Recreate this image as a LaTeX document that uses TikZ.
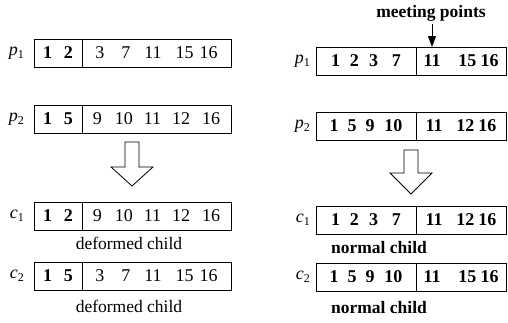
\documentclass[tikz,border=0pt]{standalone}
\usepackage{fontspec}
\setmainfont{Liberation Serif}
\usetikzlibrary{arrows.meta}
\newcommand{\rowlab}[2]{\textit{#1}\raisebox{-0.35ex}{\fontsize{12}{12}\selectfont #2}}
\begin{document}
\begin{tikzpicture}[x=1pt,y=-1pt,
  cell/.style={draw, line width=0.8pt, minimum height=28pt, inner sep=0pt, outer sep=0pt, anchor=west, font=\fontsize{18}{20}\selectfont},
  rowname/.style={anchor=east, inner sep=0pt, font=\fontsize{18}{20}\selectfont},
  caption/.style={inner sep=0pt, font=\fontsize{17.5}{20}\selectfont},
  blockarrow/.style={draw, line width=0.8pt, fill=white},
  pointer/.style={line width=1pt, -{Triangle[width=8pt,length=11pt]}}
]
\useasboundingbox (0,0) rectangle (508,322);
% ---------- left diagram ----------
\node[rowname] (lp1) at (24,53) {\rowlab{p}{1}};
\node[cell, minimum width=48pt] (lp1a) at (34,53) {\bfseries 1\hspace{12pt}2};
\node[cell, minimum width=149pt] (lp1b) at (lp1a.east) {3\hspace{17pt}7\hspace{14pt}11\hspace{14pt}15\hspace{6pt}16};

\node[rowname] (lp2) at (24,119) {\rowlab{p}{2}};
\node[cell, minimum width=48pt] (lp2a) at (34,119) {\bfseries 1\hspace{12pt}5};
\node[cell, minimum width=149pt] (lp2b) at (lp2a.east) {9\hspace{13pt}10\hspace{11pt}11\hspace{11pt}12\hspace{12pt}16};

\draw[blockarrow] (125,142) -- (139,142) -- (139,167) -- (153,167) -- (132,186) -- (111,167) -- (125,167) -- cycle;

\node[rowname] (lc1) at (24,216) {\rowlab{c}{1}};
\node[cell, minimum width=48pt] (lc1a) at (34,216) {\bfseries 1\hspace{12pt}2};
\node[cell, minimum width=149pt] (lc1b) at (lc1a.east) {9\hspace{13pt}10\hspace{11pt}11\hspace{11pt}12\hspace{12pt}16};
\node[caption] (ld1) at (129,243) {deformed child};

\node[rowname] (lc2) at (24,276) {\rowlab{c}{2}};
\node[cell, minimum width=48pt] (lc2a) at (34,276) {\bfseries 1\hspace{12pt}5};
\node[cell, minimum width=149pt] (lc2b) at (lc2a.east) {3\hspace{17pt}7\hspace{14pt}11\hspace{14pt}15\hspace{6pt}16};
\node[caption] (ld2) at (129,306) {deformed child};

% ---------- right diagram ----------
\node[caption] (mp) at (431,13) {\bfseries meeting points};
\node[rowname] (rp1) at (310,61) {\rowlab{p}{1}};
\node[cell, minimum width=100pt] (rp1a) at (316,61) {\bfseries 1\hspace{10pt}2\hspace{10pt}3\hspace{14pt}7};
\node[cell, minimum width=90pt] (rp1b) at (rp1a.east) {\bfseries 11\hspace{18pt}15\hspace{4pt}16};
\coordinate (mptip) at ([xshift=16pt]rp1a.north east);
\draw[pointer] (mptip |- mp.south) ++(0,3) -- (mptip);

\node[rowname] (rp2) at (310,126) {\rowlab{p}{2}};
\node[cell, minimum width=100pt] (rp2a) at (316,126) {\bfseries 1\hspace{9pt}5\hspace{9pt}9\hspace{10pt}10};
\node[cell, minimum width=90pt] (rp2b) at (rp2a.east) {\bfseries 11\hspace{14pt}12\hspace{4pt}16};

\draw[blockarrow] (404,150) -- (418,150) -- (418,173) -- (432,173) -- (411,194) -- (390,173) -- (404,173) -- cycle;

\node[rowname] (rc1) at (310,220) {\rowlab{c}{1}};
\node[cell, minimum width=100pt] (rc1a) at (316,220) {\bfseries 1\hspace{10pt}2\hspace{10pt}3\hspace{14pt}7};
\node[cell, minimum width=90pt] (rc1b) at (rc1a.east) {\bfseries 11\hspace{14pt}12\hspace{4pt}16};
\node[caption] (rn1) at (379,248) {\bfseries normal child};

\node[rowname] (rc2) at (310,277) {\rowlab{c}{2}};
\node[cell, minimum width=100pt] (rc2a) at (316,277) {\bfseries 1\hspace{9pt}5\hspace{9pt}9\hspace{10pt}10};
\node[cell, minimum width=90pt] (rc2b) at (rc2a.east) {\bfseries 11\hspace{18pt}15\hspace{4pt}16};
\node[caption] (rn2) at (379,308) {\bfseries normal child};
\end{tikzpicture}
\end{document}
